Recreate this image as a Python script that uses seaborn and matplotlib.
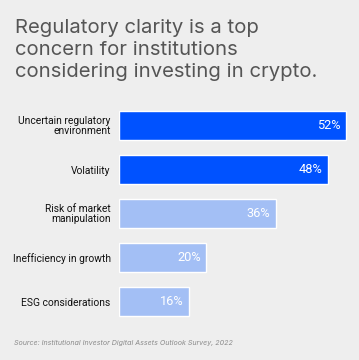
import matplotlib
matplotlib.use("Agg")
import matplotlib.pyplot as plt
import seaborn as sns
import pandas as pd

# data
categories = ["Uncertain regulatory\nenvironment", "Volatility", "Risk of market\nmanipulation",
              "Inefficiency in growth", "ESG considerations"]
values = [52, 48, 36, 20, 16]
bar_colors = ["#0052FF", "#0052FF", "#A3BFF5", "#A3BFF5", "#A3BFF5"]

df = pd.DataFrame({"concern": categories, "share": values})

bg = "#EEEEEE"
sns.set_style("white")
plt.rcParams["font.family"] = ["Roboto", "DejaVu Sans"]

fig = plt.figure(figsize=(3.59, 3.60), dpi=100, facecolor=bg)
W, H = 359, 360
# axes in pixel coords: left 119, top 103.5, height 220, width 240
ax = fig.add_axes([119 / W, 1 - (103.5 + 220) / H, 240 / W, 220 / H])
ax.set_facecolor(bg)

sns.barplot(data=df, x="share", y="concern", hue="concern", palette=bar_colors,
            legend=False, width=0.64, saturation=1, ax=ax)

ax.set_xlim(0, 55)
ax.set_ylim(4.5, -0.5)
ax.set_xlabel("")
ax.set_ylabel("")
ax.set_xticks([])
sns.despine(ax=ax, left=True, bottom=True)
ax.tick_params(axis="y", length=0, pad=6, labelsize=7.4, labelcolor="#111111")
for lab in ax.get_yticklabels():
    lab.set_horizontalalignment("right")
    lab.set_multialignment("right")
    lab.set_linespacing(0.95)

for i, v in enumerate(values):
    ax.text(v - 1.3, i, f"{v}%", color="white", ha="right", va="center",
            fontsize=9.2)

fig.text(15 / W, 1 - 19 / H,
         "Regulatory clarity is a top\nconcern for institutions\nconsidering investing in crypto.",
         ha="left", va="top", fontsize=14.6, color="#555555", linespacing=1.3,
         family=["Inter", "DejaVu Sans"])

fig.text(14 / W, 1 - 343 / H, "Source: Institutional Investor Digital Assets Outlook Survey, 2022",
         ha="left", va="center", fontsize=5.1, color="#8a8a8a", style="italic",
         family=["Inter", "DejaVu Sans"])

fig.savefig("out.png", dpi=100, facecolor=bg)
